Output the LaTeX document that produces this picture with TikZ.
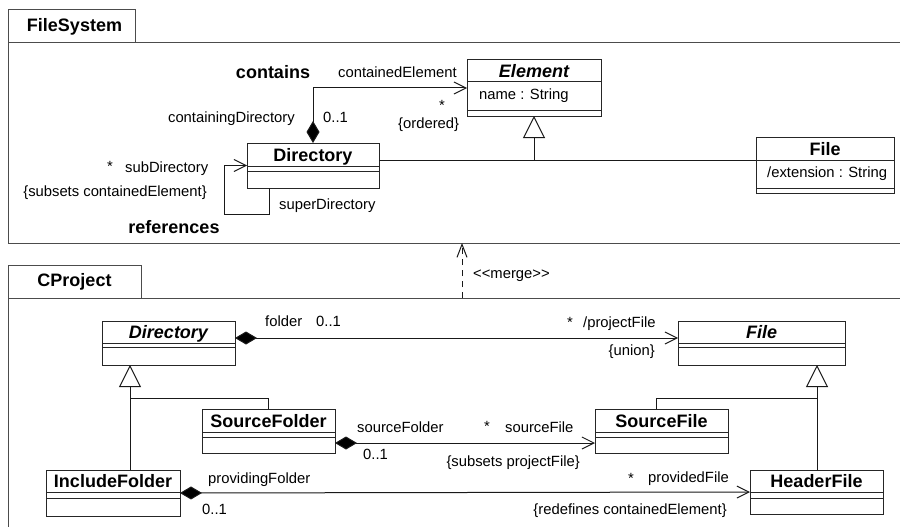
\documentclass[tikz,border=0pt]{standalone}
\usepackage{fontspec}
\setmainfont{Liberation Sans}
\usetikzlibrary{arrows.meta}

% one UML class: id, x, y, width, height, first and second compartment line (from top), name
\newcommand\umlclass[8]{%
  \node[classbox, anchor=north west, minimum width=#4pt, minimum height=#5pt] (#1) at (#2,#3) {};
  \draw[classline] ([yshift=-#6pt]#1.north west) -- ([yshift=-#6pt]#1.north east);
  \draw[classline] ([yshift=-#7pt]#1.north west) -- ([yshift=-#7pt]#1.north east);
  \node[namelbl] (#1-name) at ([yshift=-#6pt/2]#1.north) {#8};
}

\tikzset{
  classbox/.style={draw=black!85, line width=1pt, fill=white, inner sep=0pt, outer sep=0pt},
  classline/.style={draw=black!85, line width=1pt},
  frame/.style={draw=black!70, line width=1pt},
  tabbox/.style={draw=black!70, line width=1pt, anchor=north west, inner sep=0pt, outer sep=0pt,
    font=\fontsize{18}{21}\selectfont\bfseries},
  namelbl/.style={inner sep=0pt, font=\fontsize{18}{21}\selectfont\bfseries, text height=13pt, text depth=0pt},
  lbl/.style={inner sep=0pt, font=\fontsize{14.8}{17}\selectfont, text height=10.7pt, text depth=0pt},
  boldlbl/.style={inner sep=0pt, font=\fontsize{18}{21}\selectfont\bfseries, text height=13pt, text depth=0pt},
  conn/.style={draw=black!90, line width=1pt, line join=miter},
  openhead/.tip={Straight Barb[length=12pt, width=12pt, line width=1pt]},
  comphead/.tip={Diamond[length=22pt, width=13pt, fill=black]},
  genhead/.tip={Triangle[open, length=22pt, width=22pt, line width=1pt, fill=white]},
}

\begin{document}
\begin{tikzpicture}[x=1pt, y=-1pt]
\useasboundingbox (0,0) rectangle (900,527);

% ---------------- package FileSystem ----------------
\node[tabbox, minimum width=127pt, minimum height=33pt] (fstab) at (8,10) {\hspace*{6pt}FileSystem};
\coordinate (fsbr) at (902,243);
\draw[frame] (fstab.south west) -- (fstab.south west -| fsbr);
\draw[frame] (fstab.south west) -- (fstab.south west |- fsbr) -- (fsbr);

\umlclass{fselem}{467}{60}{134}{56}{22}{50}{\itshape Element}
\umlclass{fsdir}{247}{143}{132}{45}{23}{28}{Directory}
\umlclass{fsfile}{756}{137}{138}{56}{23}{51}{File}

\node[lbl, anchor=west] (fselem-attr) at (479,94) {name : String};
\node[lbl, anchor=west] (fsfile-attr) at (767,172) {/extension : String};

% generalization Directory, File -> Element
\coordinate (fsgen) at ([yshift=-23pt]fsfile.north west);
\draw[conn] (fsdir.east |- fsgen) -- (fsgen);
\draw[conn, -genhead] (fselem.south |- fsgen) -- (fselem.south);

% composition "contains"
\draw[conn, openhead-comphead] (fselem.west) -| ([xshift=66pt]fsdir.north west);
\node[boldlbl] (lb-contains) at (273,72) {contains};
\node[lbl, anchor=west] (lb-contained) at (338,72) {containedElement};
\node[lbl, anchor=east] (lb-containing) at (295,117) {containingDirectory};
\node[lbl, anchor=west] (lb-fs01) at (323,117) {0..1};
\node[lbl, anchor=west] (lb-fsstar1) at (439,105) {*};
\node[lbl, anchor=west] (lb-ordered) at (398,123) {\{ordered\}};

% self association "references"
\coordinate (fsloop) at (224,214);
\draw[conn, -openhead] ([xshift=22pt]fsdir.south west) |- (fsloop) |- (fsdir.west);
\node[lbl, anchor=west] (lb-fsstar2) at (107,166) {*};
\node[lbl, anchor=west] (lb-subdir) at (125,167) {subDirectory};
\node[lbl, anchor=east] (lb-subsets) at (207,191) {\{subsets containedElement\}};
\node[lbl, anchor=west] (lb-superdir) at (279,204) {superDirectory};
\node[boldlbl] (lb-references) at (174,227) {references};

% ---------------- merge dependency ----------------
\coordinate (mergefrom) at (462,298);
\coordinate (mergeto) at (462,243);
\draw[conn, dash pattern=on 6pt off 5pt, -{Straight Barb[length=13pt, width=10pt, line width=1pt]}] (mergefrom) -- (mergeto);
% kerns keep the angle brackets from turning into guillemets
\node[lbl, anchor=west] (lb-merge) at (473,273) {<\kern0pt<merge>\kern0pt>};

% ---------------- package CProject ----------------
\node[tabbox, minimum width=133pt, minimum height=33pt] (cptab) at (8,265) {CProject};
\coordinate (cpbr) at (902,530);
\draw[frame] (cptab.south west) -- (cptab.south west -| cpbr);
\draw[frame] (cptab.south west) -- (cptab.south west |- cpbr);

\umlclass{cpdir}{102}{321}{133}{44}{22}{26}{\itshape Directory}
\umlclass{cpfile}{678}{321}{167}{44}{22}{26}{\itshape File}
\umlclass{srcfolder}{202}{409}{133}{44}{23}{28}{SourceFolder}
\umlclass{srcfile}{595}{409}{133}{44}{23}{28}{SourceFile}
\umlclass{incl}{46}{470}{134}{46}{22}{28}{IncludeFolder}
\umlclass{hdr}{750}{470}{133}{44}{22}{28}{HeaderFile}

% generalizations
\coordinate (cpdirgen) at ([xshift=28pt]cpdir.south west);
\coordinate (cpdirjoin) at (cpdirgen |- 0,398);
\draw[conn, -genhead] (incl.north -| cpdirgen) -- (cpdirgen);
\draw[conn] ([xshift=66pt]srcfolder.north west) |- (cpdirjoin);

\coordinate (cpfilegen) at ([xshift=139pt]cpfile.south west);
\coordinate (cpfilejoin) at (cpfilegen |- 0,398);
\draw[conn, -genhead] (hdr.north -| cpfilegen) -- (cpfilegen);
\draw[conn] ([xshift=61pt]srcfile.north west) |- (cpfilejoin);

% Directory -> File
\draw[conn, comphead-openhead] ([yshift=5pt]cpdir.east) -- ([yshift=5pt]cpfile.west);
\node[lbl, anchor=west] (lb-folder) at (265,321) {folder};
\node[lbl, anchor=west] (lb-cp01a) at (316,321) {0..1};
\node[lbl, anchor=west] (lb-cpstar1) at (567,322) {*};
\node[lbl, anchor=west] (lb-projfile) at (583,322) {/projectFile};
\node[lbl, anchor=east] (lb-union) at (655,350) {\{union\}};

% SourceFolder -> SourceFile
\draw[conn, comphead-openhead] ([yshift=-12pt]srcfolder.east) -- ([yshift=-12pt]srcfile.west);
\node[lbl, anchor=west] (lb-srcfolder) at (357,427) {sourceFolder};
\node[lbl, anchor=west] (lb-cp01b) at (363,454) {0..1};
\node[lbl, anchor=west] (lb-cpstar2) at (484,426) {*};
\node[lbl, anchor=west] (lb-srcfile) at (505,427) {sourceFile};
\node[lbl, anchor=east] (lb-subproj) at (580,461) {\{subsets projectFile\}};

% IncludeFolder -> HeaderFile
\draw[conn, comphead-openhead] (incl.east) -- (hdr.west);
\node[lbl, anchor=west] (lb-provfolder) at (208,478) {providingFolder};
\node[lbl, anchor=west] (lb-cp01c) at (202,509) {0..1};
\node[lbl, anchor=west] (lb-cpstar3) at (628,478) {*};
\node[lbl, anchor=west] (lb-provfile) at (648,477) {providedFile};
\node[lbl, anchor=east] (lb-redef) at (727,509) {\{redefines containedElement\}};
\end{tikzpicture}
\end{document}
